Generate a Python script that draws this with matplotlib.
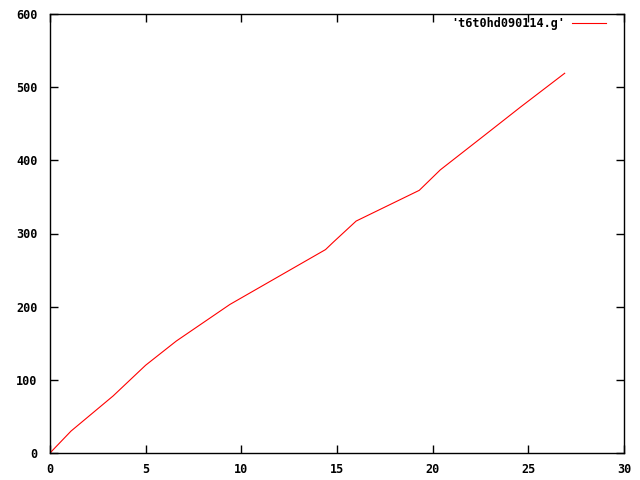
import matplotlib
matplotlib.use("Agg")
import matplotlib.pyplot as plt

# values
x_vals = [0, 1.1, 3.3, 5.0, 6.6, 9.4, 14.4, 14.8, 16.0, 19.3, 20.4, 22.7, 24.6, 26.9]
y_vals = [0, 30, 78, 120, 153, 203, 278, 288, 317, 359, 387, 434, 473, 519]
x_ticks = [0, 5, 10, 15, 20, 25, 30]
y_ticks = [0, 100, 200, 300, 400, 500, 600]
series_label = "'t6t0hd090114.g'"

plt.rcParams["font.family"] = ["DejaVu Sans Mono"]
plt.rcParams["font.size"] = 8

fig = plt.figure(figsize=(6.4, 4.8), dpi=100)
ax = fig.add_axes([50 / 640, 27 / 480, 574 / 640, 439 / 480])
ax.plot(x_vals, y_vals, color="red", linewidth=0.8, label=series_label)

ax.set_xlim(0, 30)
ax.set_ylim(0, 600)
ax.set_xticks(x_ticks)
ax.set_yticks(y_ticks)
ax.tick_params(direction="in", length=6, width=1, top=True, right=True,
               labelsize=8.5)
ax.tick_params(axis="x", pad=7)
ax.tick_params(axis="y", pad=9)
for lbl in ax.get_xticklabels() + ax.get_yticklabels():
    lbl.set_fontweight("bold")
for s in ax.spines.values():
    s.set_linewidth(1)

leg = ax.legend(loc="upper right", frameon=False, markerfirst=False,
                handlelength=2.9, handletextpad=0.6,
                borderaxespad=0.0, borderpad=0.2,
                bbox_to_anchor=(0.973, 0.998),
                prop={"weight": "bold", "size": 8.5})

fig.savefig("out.png", dpi=100)
